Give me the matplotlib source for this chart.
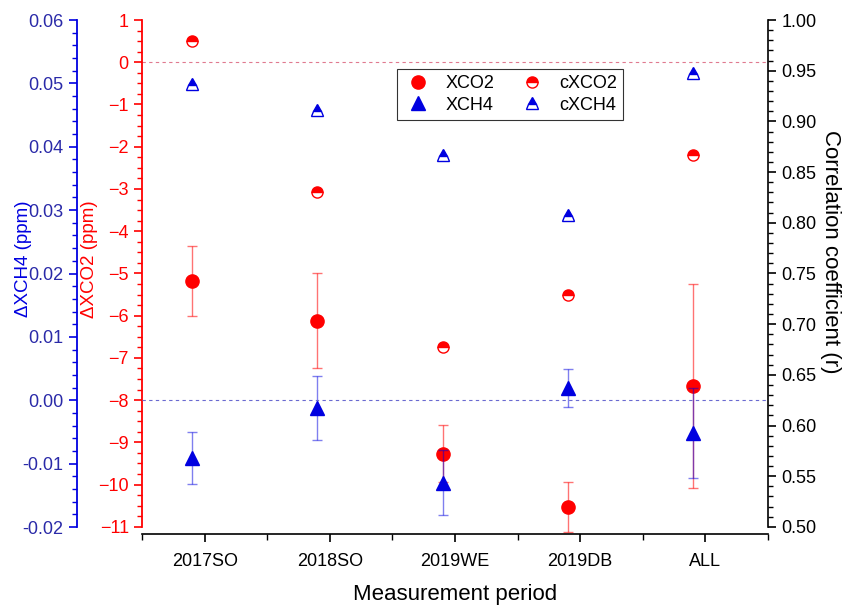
import matplotlib
matplotlib.use('Agg')
import matplotlib.pyplot as plt
import numpy as np
from matplotlib.ticker import MultipleLocator, FormatStrFormatter

plt.rcParams['font.family'] = ['Liberation Sans', 'DejaVu Sans']

periods = ['2017SO', '2018SO', '2019WE', '2019DB', 'ALL']

# bias (ppm) and 1-sigma
xco2 = [-5.18, -6.12, -9.27, -10.53, -7.66]
xco2_err = [0.82, 1.13, 0.68, 0.60, 2.42]
xch4 = [-0.0091, -0.0012, -0.0130, 0.0020, -0.0051]
xch4_err = [0.0041, 0.0051, 0.0051, 0.0030, 0.0071]

# correlation coefficients
cxco2 = [0.979, 0.830, 0.677, 0.729, 0.867]
cxch4 = [0.937, 0.911, 0.867, 0.808, 0.948]

red = '#ff0000'
blue = '#0000e0'

fig = plt.figure(figsize=(8.53, 6.08), dpi=100)
ax = fig.add_axes([0.1665, 0.1217, 0.7339, 0.8454])
ax_b = ax.twinx()
ax_r = ax.twinx()

x = np.arange(1, len(periods) + 1)
xp = x - 0.1

# red axis (XCO2)
ax.errorbar(xp, xco2, yerr=xco2_err, fmt='none', ecolor=red, alpha=0.55,
            elinewidth=1, capsize=3.5, capthick=1)
l1, = ax.plot(xp, xco2, 'o', color=red, ms=9.5, ls='none', label='XCO2')
ax.axhline(0, color='#e07a90', ls=(0, (3, 3)), lw=0.8)
ax.set_ylim(-11.17, 1.0)
ax.spines['left'].set_bounds(-11, 1)
ax.spines['left'].set_color(red)
ax.spines['left'].set_linewidth(1.3)
ax.yaxis.set_major_locator(MultipleLocator(1))
ax.yaxis.set_minor_locator(MultipleLocator(0.25))
ax.tick_params(axis='y', colors=red, labelcolor=red, labelsize=13, length=6, width=1.2)
ax.tick_params(axis='y', which='minor', colors=red, length=3.5, width=1)
ax.set_ylabel('ΔXCO2 (ppm)', color=red, fontsize=13.5)
ax.yaxis.set_label_coords(-0.071, 0.535)
ax.spines['top'].set_visible(False)
ax.spines['right'].set_visible(False)

# x axis
ax.set_xlim(0.5, 5.5)
ax.set_xticks(x)
ax.set_xticklabels(periods)
ax.xaxis.set_minor_locator(MultipleLocator(0.5))
ax.tick_params(axis='x', labelsize=13, length=6, width=1.2, pad=8)
ax.tick_params(axis='x', which='minor', length=4, width=1)
ax.spines['bottom'].set_linewidth(1.2)
ax.set_xlabel('Measurement period', fontsize=16, labelpad=10)

# blue axis (XCH4), outer left
ax_b.yaxis.tick_left()
ax_b.yaxis.set_label_position('left')
ax_b.spines['left'].set_position(('outward', 47))
ax_b.spines['left'].set_visible(True)
for s in ['right', 'top', 'bottom']:
    ax_b.spines[s].set_visible(False)
ax_b.errorbar(xp, xch4, yerr=xch4_err, fmt='none', ecolor=blue, alpha=0.5,
              elinewidth=1, capsize=3.5, capthick=1)
l2, = ax_b.plot(xp, xch4, '^', color=blue, ms=10.5, ls='none', label='XCH4')
ax_b.axhline(0, color='#6a6ad0', ls=(0, (3, 3)), lw=0.8)
ax_b.set_ylim(-0.0211, 0.06)
ax_b.spines['left'].set_bounds(-0.02, 0.06)
ax_b.spines['left'].set_color(blue)
ax_b.spines['left'].set_linewidth(1.3)
ax_b.yaxis.set_major_locator(MultipleLocator(0.01))
ax_b.yaxis.set_minor_locator(MultipleLocator(0.002))
ax_b.yaxis.set_major_formatter(FormatStrFormatter('%.2f'))
ax_b.tick_params(axis='y', colors=blue, labelcolor='#2a2aa8', labelsize=13, length=6, width=1.2)
ax_b.tick_params(axis='y', which='minor', colors=blue, length=3.5, width=1)
ax_b.set_ylabel('ΔXCH4 (ppm)', color=blue, fontsize=13.5)
ax_b.yaxis.set_label_coords(-0.176, 0.535)

# right axis (correlation)
for s in ['left', 'top', 'bottom']:
    ax_r.spines[s].set_visible(False)
l3, = ax_r.plot(xp, cxco2, 'o', color=red, mfc=red, mfcalt='white', mec=red,
                fillstyle='top', ms=8, ls='none', label='cXCO2')
l4, = ax_r.plot(xp, cxch4, '^', color=blue, mfc=blue, mfcalt='white', mec=blue,
                fillstyle='top', ms=8.5, ls='none', label='cXCH4')
ax_r.set_ylim(0.493, 1.0)
ax_r.spines['right'].set_bounds(0.5, 1.0)
ax_r.spines['right'].set_linewidth(1.2)
ax_r.yaxis.set_major_locator(MultipleLocator(0.05))
ax_r.yaxis.set_minor_locator(MultipleLocator(0.01))
ax_r.yaxis.set_major_formatter(FormatStrFormatter('%.2f'))
ax_r.tick_params(axis='y', labelsize=13, length=6, width=1.2)
ax_r.tick_params(axis='y', which='minor', length=3.5, width=1)
ax_r.set_ylabel('Correlation coefficient (r)', fontsize=16, rotation=270)
ax_r.yaxis.set_label_coords(1.117, 0.55)

leg = ax_r.legend(handles=[l1, l2, l3, l4], ncol=2, loc='upper left',
                  bbox_to_anchor=(0.408, 0.905), borderaxespad=0, fontsize=13,
                  frameon=True, fancybox=False, edgecolor='black',
                  handletextpad=0.7, handlelength=1.6, columnspacing=1.3,
                  borderpad=0.35, labelspacing=0.25)
leg.get_frame().set_linewidth(0.8)

fig.savefig('out.png', dpi=100)
